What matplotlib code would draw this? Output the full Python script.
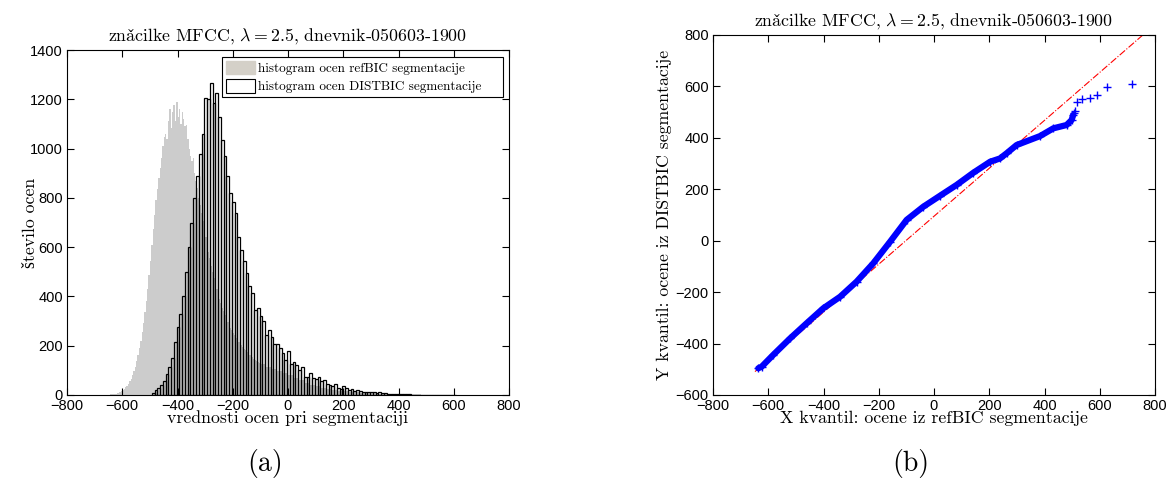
"""
Histogram ocen refBIC / DISTBIC segmentacije in QQ graf kvantilov.
"""
import numpy as np
import matplotlib
matplotlib.use("Agg")
import matplotlib.pyplot as plt
from matplotlib.patches import Patch

plt.rcParams["mathtext.fontset"] = "cm"
SERIF = ["cmr10", "Liberation Serif", "DejaVu Serif"]
SANS = ["Liberation Sans", "DejaVu Sans"]

# č prek mathtext (cmr10 ga nima, š pa se nadomesti iz drugega fonta)
C_CARON = r"$\check{\mathrm{c}}$"
TITLE = "zna" + C_CARON + r"ilke MFCC, $\lambda = 2.5$, dnevnik-050603-1900"

# ---- refBIC histogram (fine bins, 5 enot) ----
ref_start, ref_w = -650, 5
ref_counts = [
    2, 3, 3, 4, 5, 6, 8, 10, 13, 16,
    20, 25, 31, 38, 46, 55, 66, 80, 96, 115,
    138, 162, 190, 220, 255, 293, 335, 380, 430, 485,
    545, 610, 675, 730, 790, 835, 880, 920, 960, 1010,
    1045, 1060, 1040, 1110, 1160, 1085, 1150, 1175, 1110, 1190,
    1130, 1160, 1100, 1150, 1120, 1090, 1095, 1040, 1000, 970,
    950, 960, 900, 870, 840, 800, 770, 740, 705, 675,
    640, 610, 580, 555, 525, 500, 475, 450, 430, 410,
    390, 372, 355, 340, 325, 310, 297, 285, 273, 262,
    252, 242, 233, 224, 216, 208, 201, 194, 188, 182,
    176, 170, 164, 158, 153, 148, 143, 138, 134, 130,
]
# rep refBIC histograma (20 enot)
tail_start, tail_w = -100, 20
tail_counts = [
    125, 115, 106, 98, 90, 80, 70, 60, 50, 42,
    35, 29, 25, 21, 18, 15, 13, 11, 9, 8,
    7, 6, 5, 5, 4, 4, 3, 3, 3, 2,
    2, 2, 2, 2, 2, 1, 1, 1, 1, 1,
    1, 1, 1,
]

# ---- DISTBIC histogram (10 enot) ----
dist_start, dist_w = -493, 10
dist_counts = [
    7, 20, 30, 42, 58, 85, 115, 150, 216, 277,
    330, 400, 500, 600, 700, 800, 890, 980, 1060, 1204,
    1200, 1265, 1184, 1224, 1130, 1035, 970, 890, 820, 785,
    740, 640, 590, 545, 495, 442, 413, 345, 352, 320,
    300, 243, 264, 234, 207, 207, 189, 172, 142, 180,
    126, 135, 122, 101, 115, 74, 72, 88, 70, 64,
    72, 57, 61, 45, 41, 38, 45, 30, 26, 36,
    30, 20, 23, 16, 20, 16, 14, 12, 14, 14,
    11, 9, 14, 9, 7, 6, 5, 6, 5, 4,
    5, 4, 3, 3, 2, 2, 2, 1, 2, 1,
    1, 1, 1, 1, 0, 1, 0, 1, 1, 1,
]

# ---- QQ kvantili (odčitano z grafa) ----
qq_x = [-636, -624, -582, -521, -461, -401, -340, -280, -220, -159,
        -99, -39, 22, 82, 142, 203, 239, 263, 299, 384,
        432, 480, 498, 504]
qq_y = [-496, -490, -444, -380, -321, -263, -218, -159, -88, -4,
        81, 132, 175, 217, 264, 307, 320, 340, 372, 407,
        437, 450, 469, 489]
# posamezne točke v repu
out_x = [508, 512, 516, 535, 565, 591, 625, 716]
out_y = [495, 505, 541, 550, 554, 567, 597, 609]
# referenčna premica (dve točki)
ref_line_x = [-648, 800]
ref_line_y = [-509, 841]


def style_axes(ax):
    ax.tick_params(direction="in", top=True, right=True, length=5,
                   width=0.8, labelsize=10.5, pad=3)
    for lab in ax.get_xticklabels() + ax.get_yticklabels():
        lab.set_fontfamily(SANS)
    for s in ax.spines.values():
        s.set_linewidth(0.8)


fig = plt.figure(figsize=(11.69, 4.78), dpi=100)
ax1 = fig.add_axes([67 / 1169, 83 / 478, 442 / 1169, 345 / 478])
ax2 = fig.add_axes([713 / 1169, 83 / 478, 442 / 1169, 360 / 478])

# ===== (a) histogram =====
ref_c = ref_start + ref_w / 2 + ref_w * np.arange(len(ref_counts))
tail_c = tail_start + tail_w / 2 + tail_w * np.arange(len(tail_counts))
ax1.bar(ref_c, ref_counts, width=ref_w, color="#cccccc", lw=0)
ax1.bar(tail_c, tail_counts, width=tail_w, color="#cccccc", lw=0)
dist_c = dist_start + dist_w / 2 + dist_w * np.arange(len(dist_counts))
ax1.bar(dist_c, dist_counts, width=dist_w, facecolor="none",
        edgecolor="black", lw=0.9)
ax1.set_xlim(-800, 800)
ax1.set_ylim(0, 1400)
ax1.set_xticks(np.arange(-800, 801, 200))
ax1.set_yticks(np.arange(0, 1401, 200))
style_axes(ax1)
ax1.set_title(TITLE, family=SERIF, fontsize=12.8, pad=7)
ax1.set_xlabel("vrednosti ocen pri segmentaciji", family=SERIF,
               fontsize=12.8)
ax1.set_ylabel("število ocen", family=SERIF, fontsize=12.8)
ax1.xaxis.set_label_coords(0.5, -0.045)
ax1.yaxis.set_label_coords(-0.066, 0.5)
handles = [Patch(facecolor="#d4d0c8", edgecolor="#d4d0c8"),
           Patch(facecolor="white", edgecolor="black", lw=0.8)]
leg = ax1.legend(handles, ["histogram ocen refBIC segmentacije",
                           "histogram ocen DISTBIC segmentacije    "],
                 loc="upper left", bbox_to_anchor=((222 - 67) / 442, 0.98),
                 borderaxespad=0, fancybox=False, framealpha=1,
                 edgecolor="black", prop={"family": SERIF, "size": 9.5},
                 handlelength=2.2, handleheight=1.2, handletextpad=0.25,
                 borderpad=0.3, labelspacing=0.3)
leg.get_frame().set_linewidth(0.8)

# ===== (b) QQ graf =====
ax2.plot(ref_line_x, ref_line_y, color="red", ls="-.", lw=0.8)
ax2.plot(qq_x, qq_y, color="#0000ff", lw=4.5, solid_capstyle="round",
         solid_joinstyle="round")
ax2.plot(qq_x + out_x, qq_y + out_y, ls="none", marker="+", ms=6,
         mew=1.0, color="#0000ff")
ax2.set_xlim(-800, 800)
ax2.set_ylim(-600, 800)
ax2.set_xticks(np.arange(-800, 801, 200))
ax2.set_yticks(np.arange(-600, 801, 200))
style_axes(ax2)
ax2.set_title(TITLE, family=SERIF, fontsize=12.8, pad=7)
ax2.set_xlabel("X kvantil: ocene iz refBIC segmentacije", family=SERIF,
               fontsize=12.8)
ax2.set_ylabel("Y kvantil: ocene iz DISTBIC segmentacije", family=SERIF,
               fontsize=12.8)
ax2.xaxis.set_label_coords(0.5, -0.043)
ax2.yaxis.set_label_coords(-0.093, 0.5)

fig.text(265 / 1169, 1 - 463 / 478, "(a)", family=SERIF, fontsize=20,
         ha="center", va="center")
fig.text(911 / 1169, 1 - 463 / 478, "(b)", family=SERIF, fontsize=20,
         ha="center", va="center")

fig.savefig("out.png", dpi=100)
